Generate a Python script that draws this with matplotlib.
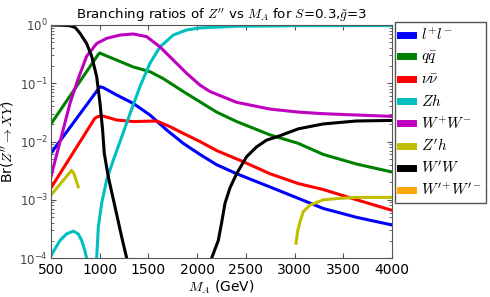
import numpy as np
import matplotlib
matplotlib.use("Agg")
import matplotlib.pyplot as plt

plt.rcParams['mathtext.fontset'] = 'cm'
plt.rcParams['font.family'] = ['DejaVu Sans']

# values (M_A in GeV, branching ratio)
ll_m = [500, 1003, 1037, 1174, 1345, 1516, 1687, 1858, 2029, 2200, 2406, 2748, 3038, 3295, 3638, 4000]
ll_br = [0.0063, 0.087, 0.084, 0.063, 0.045, 0.0285, 0.0158, 0.0093, 0.0060, 0.0040, 0.0028, 0.00166, 0.00106, 7.1e-4, 5.0e-4, 3.7e-4]

qq_m = [500, 990, 1003, 1037, 1174, 1345, 1516, 1653, 1858, 2029, 2200, 2406, 2748, 3038, 3295, 3638, 4000]
qq_br = [0.020, 0.32, 0.33, 0.31, 0.25, 0.19, 0.158, 0.12, 0.072, 0.048, 0.032, 0.022, 0.013, 0.0093, 0.0060, 0.0041, 0.0030]

nn_m = [500, 950, 986, 1037, 1174, 1345, 1585, 1721, 1858, 2029, 2200, 2474, 2748, 3038, 3295, 3638, 4000]
nn_br = [0.0016, 0.025, 0.027, 0.0273, 0.0234, 0.022, 0.0225, 0.018, 0.0138, 0.010, 0.0070, 0.0045, 0.0028, 0.0019, 0.0015, 0.0010, 6.6e-4]

zh1_m = [500, 592, 660, 729, 780, 815, 845, 866]
zh1_br = [1.1e-4, 2.0e-4, 2.6e-4, 2.9e-4, 2.6e-4, 2.0e-4, 1.4e-4, 1.0e-4]
zh2_m = [969, 986, 1020, 1072, 1140, 1226, 1311, 1413, 1516, 1619, 1755, 1892, 2029, 2400, 3000, 4000]
zh2_br = [1.0e-4, 3.4e-4, 8.7e-4, 0.0022, 0.0048, 0.012, 0.030, 0.087, 0.22, 0.42, 0.67, 0.82, 0.89, 0.95, 0.97, 0.975]

ww_m = [500, 600, 695, 780, 866, 969, 1072, 1208, 1345, 1482, 1619, 1755, 1892, 2029, 2132, 2406, 2748, 3038, 3295, 4000]
ww_br = [0.0025, 0.011, 0.045, 0.12, 0.29, 0.48, 0.59, 0.67, 0.70, 0.63, 0.42, 0.25, 0.148, 0.093, 0.072, 0.047, 0.036, 0.032, 0.030, 0.027]

zph1_m = [500, 610, 712, 736, 780]
zph1_br = [0.0012, 0.002, 0.0032, 0.0028, 0.00167]
zph2_m = [3015, 3030, 3056, 3090, 3158, 3295, 3466, 3638, 4000]
zph2_br = [1.8e-4, 2.8e-4, 4.2e-4, 6.3e-4, 8.1e-4, 0.0010, 0.00106, 0.0011, 0.0011]

wpw1_m = [500, 600, 695, 750, 798, 866, 918, 969, 1003, 1030, 1047, 1088, 1157, 1226, 1277]
wpw1_br = [1.0, 0.99, 0.97, 0.90, 0.72, 0.48, 0.29, 0.13, 0.046, 0.0158, 0.0063, 0.0025, 7.6e-4, 2.3e-4, 1.0e-4]
wpw2_m = [2149, 2217, 2251, 2286, 2337, 2405, 2508, 2611, 2714, 2817, 3038, 3292, 3634, 4000]
wpw2_br = [1.0e-4, 2.0e-4, 4.0e-4, 8.7e-4, 0.0016, 0.0028, 0.0055, 0.0081, 0.0106, 0.012, 0.0165, 0.020, 0.0225, 0.023]

# W'+W'- never enters the plotted range
wpwp_m = []
wpwp_br = []

cb, cg, cr = (0, 0, 1), (0, 0.5, 0), (1, 0, 0)
cc, cm, cy = (0, 0.75, 0.75), (0.75, 0, 0.75), (0.75, 0.75, 0)
co = (1, 0.65, 0)

fig = plt.figure(figsize=(4.9, 2.97), dpi=100)
ax = fig.add_axes([0.104, 0.131, 0.696, 0.785])
lw = 2.2

ax.plot(ll_m, ll_br, color=cb, lw=lw, label=r'$l^{+}l^{-}$')
ax.plot(qq_m, qq_br, color=cg, lw=lw, label=r'$q\bar{q}$')
ax.plot(nn_m, nn_br, color=cr, lw=lw, label=r'$\nu\bar{\nu}$')
ax.plot(zh1_m, zh1_br, color=cc, lw=lw, label=r'$Zh$')
ax.plot(zh2_m, zh2_br, color=cc, lw=lw)
ax.plot(ww_m, ww_br, color=cm, lw=lw, label=r'$W^{+}W^{-}$')
ax.plot(zph1_m, zph1_br, color=cy, lw=lw, label=r"$Z'h$")
ax.plot(zph2_m, zph2_br, color=cy, lw=lw)
ax.plot(wpw1_m, wpw1_br, color='k', lw=lw, label=r"$W'W$")
ax.plot(wpw2_m, wpw2_br, color='k', lw=lw)
ax.plot(wpwp_m, wpwp_br, color=co, lw=lw, label=r"$W'^{+}W'^{-}$")

ax.set_yscale('log')
ax.set_xlim(500, 4000)
ax.set_ylim(1e-4, 1)
ax.set_xticks([500, 1000, 1500, 2000, 2500, 3000, 3500, 4000])
ax.tick_params(which='both', direction='in', top=True, right=True, colors='#555555',
               labelcolor='black')
ax.tick_params(axis='x', labelsize=10)
ax.tick_params(axis='y', labelsize=8.5, labelcolor='#444444', pad=2)
for s in ax.spines.values():
    s.set_color('#555555')

ax.set_xlabel(r'$M_A$ (GeV)', fontsize=10, labelpad=1)
ax.set_ylabel(r"Br($Z''\rightarrow XY$)", fontsize=10, labelpad=3)
ax.set_title(r"Branching ratios of $Z''$ vs $M_A$ for $S$=0.3,$\tilde{g}$=3", fontsize=9.6, pad=4)

leg = ax.legend(loc='upper left', bbox_to_anchor=(0.806, 0.925), bbox_transform=fig.transFigure,
                fontsize=11, handlelength=0.9, handletextpad=0.5, labelspacing=0.4,
                borderaxespad=0, fancybox=False, framealpha=1, borderpad=0.3)
leg.get_frame().set_edgecolor('#555555')
for h in leg.get_lines():
    h.set_linewidth(5)

fig.savefig('out.png', dpi=100)
